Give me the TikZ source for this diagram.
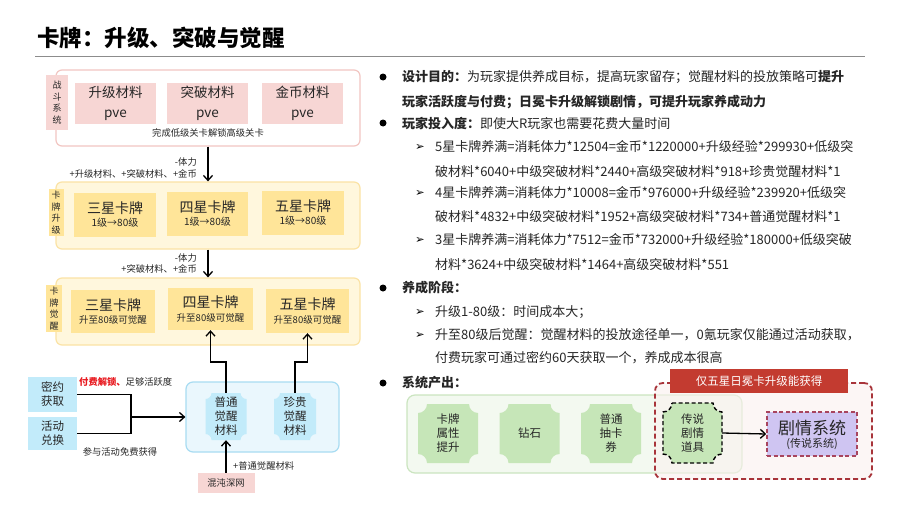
\documentclass[tikz,border=0pt]{standalone}
\usepackage{fontspec}
\setmainfont{Noto Sans CJK SC}
\newfontfamily\dvfont{DejaVu Sans}
\usetikzlibrary{arrows.meta,calc}
\definecolor{pinkbd}{HTML}{F2C6C2}
\definecolor{pinkfill}{HTML}{F7D6D4}
\definecolor{yelbg}{HTML}{FFF7DD}
\definecolor{yelbd}{HTML}{FBE3A5}
\definecolor{yelfill}{HTML}{FFE599}
\definecolor{bluebg}{HTML}{EAF7FD}
\definecolor{bluebd}{HTML}{A8DCF2}
\definecolor{bluefill}{HTML}{C2EBFA}
\definecolor{grnbg}{HTML}{F3F9F0}
\definecolor{grnbd}{HTML}{CBE5C0}
\definecolor{grnfill}{HTML}{C6E6B8}
\definecolor{redbd}{HTML}{A8343A}
\definecolor{redban}{HTML}{C33B30}
\definecolor{redbg}{HTML}{FAF1EF}
\definecolor{lav}{HTML}{CFC5F2}
\definecolor{lavbd}{HTML}{A8445E}
\definecolor{txt}{HTML}{262626}
\definecolor{redtxt}{HTML}{E8191F}
\newcommand{\fsz}[2]{\fontsize{#1}{#2}\selectfont}
\newcommand{\plaq}[8]{%
  \pgfmathsetmacro\plqXa{#2-#4/2}%
  \pgfmathsetmacro\plqXb{#2+#4/2}%
  \pgfmathsetmacro\plqYa{#3-#5/2}%
  \pgfmathsetmacro\plqYb{#3+#5/2}%
  \pgfmathsetmacro\plqK{0.5523*#6}%
  \path[#7] (\plqXa+#6,\plqYa) -- (\plqXb-#6,\plqYa)
    .. controls (\plqXb-#6,\plqYa+\plqK) and (\plqXb-\plqK,\plqYa+#6) .. (\plqXb,\plqYa+#6)
    -- (\plqXb,\plqYb-#6)
    .. controls (\plqXb-\plqK,\plqYb-#6) and (\plqXb-#6,\plqYb-\plqK) .. (\plqXb-#6,\plqYb)
    -- (\plqXa+#6,\plqYb)
    .. controls (\plqXa+#6,\plqYb-\plqK) and (\plqXa+\plqK,\plqYb-#6) .. (\plqXa,\plqYb-#6)
    -- (\plqXa,\plqYa+#6)
    .. controls (\plqXa+\plqK,\plqYa+#6) and (\plqXa+#6,\plqYa+\plqK) .. (\plqXa+#6,\plqYa)
    -- cycle;
  \node[plqtext, minimum width=#4pt, minimum height=#5pt] (#1) at (#2,#3) {#8};
}
\begin{document}
\begin{tikzpicture}[x=1pt,y=-1pt,
  lbl/.style={inner sep=0pt, text=txt},
  plqtext/.style={inner sep=0pt, align=center, text=txt, font=\fsz{11.5}{14}},
  tl/.style={anchor=west, inner sep=0pt, font=\fsz{13}{16}, text=txt},
  bul/.style={circle, fill=black, minimum size=7pt, inner sep=0pt},
  subm/.style={inner sep=0pt, font=\dvfont\fsz{11.5}{13}, text=black},
  arr/.style={line width=1.3pt, draw=black, -{Straight Barb[length=5pt,width=9pt]}},
  outer/.style={line width=1.2pt, rounded corners=6pt, minimum width=304pt, inner sep=0pt},
  vlab/.style={inner sep=0pt, align=center, font=\fsz{9}{11.5}, text=txt},
  pinkin/.style={fill=pinkfill, inner sep=0pt, minimum width=81pt, minimum height=41pt, align=center, font=\fsz{13.5}{20}, text=txt},
  yelin/.style={fill=yelfill, inner sep=0pt, minimum height=44pt},
  capt/.style={inner sep=0pt, text=txt, font=\fsz{9.3}{11}},
  bluein/.style={fill=bluefill, inner sep=0pt, minimum width=49pt, align=center, font=\fsz{11.5}{14}, text=txt}
]
\useasboundingbox (0,0) rectangle (900,506);
\fill[white] (0,0) rectangle (900,506);

% title
\node[anchor=west, inner sep=0pt, font=\fsz{22.5}{26}\bfseries, text=black] (title) at (37,38) {卡牌：升级、突破与觉醒};
\coordinate (tla) at (35,56);
\coordinate (tlb) at (865,56);
\draw[draw=black!45, line width=1pt] (tla) -- (tlb);

% ---------- box 1: battle system
\node[outer, draw=pinkbd, fill=white, minimum height=76pt] (b1) at (208,108) {};
\node[vlab, fill=pinkfill, minimum width=22pt, minimum height=55pt] (lb1) at (57,102.5) {战\\斗\\系\\统};
\node[pinkin] (m1) at (115.5,103.5) {升级材料\\pve};
\node[pinkin] (m2) at (207.5,103.5) {突破材料\\pve};
\node[pinkin] (m3) at (302.5,103.5) {金币材料\\pve};
\node[capt] (c1) at (208,133) {完成低级关卡解锁高级关卡};

% ---------- box 2: upgrade
\node[outer, draw=yelbd, fill=yelbg, minimum height=67pt] (b2) at (208,215.5) {};
\node[vlab, fill=yelfill, minimum width=15pt, minimum height=47pt] (lb2) at (56,212.5) {卡\\牌\\升\\级};
\node[yelin, minimum width=82pt] (u3) at (115,214.5) {};
\node[yelin, minimum width=81pt] (u4) at (207.5,214) {};
\node[yelin, minimum width=82pt] (u5) at (303,212.5) {};
\node[lbl, font=\fsz{14}{16}] (u3t) at ($(u3.center)+(0,-6.5)$) {三星卡牌};
\node[lbl, font=\fsz{10}{12}] (u3s) at ($(u3.center)+(0,8)$) {1级→80级};
\node[lbl, font=\fsz{14}{16}] (u4t) at ($(u4.center)+(0,-6.5)$) {四星卡牌};
\node[lbl, font=\fsz{10}{12}] (u4s) at ($(u4.center)+(0,8)$) {1级→80级};
\node[lbl, font=\fsz{14}{16}] (u5t) at ($(u5.center)+(0,-6.5)$) {五星卡牌};
\node[lbl, font=\fsz{10}{12}] (u5s) at ($(u5.center)+(0,8)$) {1级→80级};

% ---------- box 3: awakening
\node[outer, draw=yelbd, fill=yelbg, minimum height=67pt] (b3) at (208,311.5) {};
\node[vlab, fill=yelfill, minimum width=16pt, minimum height=47pt] (lb3) at (54,308.5) {卡\\牌\\觉\\醒};
\node[yelin, minimum width=84pt, minimum height=43pt] (a3) at (113,311.5) {};
\node[yelin, minimum width=85pt, minimum height=42pt] (a4) at (210.5,309) {};
\node[yelin, minimum width=83pt, minimum height=44pt] (a5) at (307.5,311) {};
\node[lbl, font=\fsz{14}{16}] (a3t) at ($(a3.center)+(0,-6.5)$) {三星卡牌};
\node[lbl, font=\fsz{9.5}{12}] (a3s) at ($(a3.center)+(0,8.5)$) {升至80级可觉醒};
\node[lbl, font=\fsz{14}{16}] (a4t) at ($(a4.center)+(0,-6.5)$) {四星卡牌};
\node[lbl, font=\fsz{9.5}{12}] (a4s) at ($(a4.center)+(0,8.5)$) {升至80级可觉醒};
\node[lbl, font=\fsz{14}{16}] (a5t) at ($(a5.center)+(0,-6.5)$) {五星卡牌};
\node[lbl, font=\fsz{9.5}{12}] (a5s) at ($(a5.center)+(0,8.5)$) {升至80级可觉醒};

% arrows between boxes
\draw[arr] (b1.south) -- (b2.north);
\node[capt, anchor=east] (l1a) at (197,162) {-体力};
\node[capt, anchor=east] (l1b) at (197,174) {+升级材料、+突破材料、+金币};
\draw[arr] (b2.south) -- (b3.north);
\node[capt, anchor=east] (l2a) at (197,258) {-体力};
\node[capt, anchor=east] (l2b) at (197,269) {+突破材料、+金币};

% ---------- awakening materials
\node[draw=bluebd, fill=bluebg, line width=1.2pt, rounded corners=7pt, minimum width=153pt, minimum height=70pt, inner sep=0pt] (bl) at (262.5,417) {};
\plaq{pt}{226}{416.5}{41}{47}{6}{fill=bluefill}{普通\\觉醒\\材料}
\plaq{zg}{295}{416.5}{42}{47}{6}{fill=bluefill}{珍贵\\觉醒\\材料}
\node[bluein, minimum height=35pt] (mi) at (52.5,394.5) {密约\\获取};
\node[bluein, minimum height=33pt] (hd) at (52.5,433.5) {活动\\兑换};
\node[fill=pinkfill, minimum width=57pt, minimum height=20pt, inner sep=0pt, font=\fsz{9.3}{11}, text=txt] (hd2) at (226,483) {混沌深网};

\coordinate (jn) at (131,417);
\draw[line width=1.3pt] (mi.east) -| (jn) |- (hd.east);
\draw[arr] (jn) -- (bl.west);
\node[capt, anchor=west] (lp) at (79,382) {\textcolor{redtxt}{\bfseries 付费解锁、}足够活跃度};
\node[capt] (lq) at (120,452) {参与活动免费获得};

\coordinate (e1) at (219,362);
\coordinate (e2) at (301,362);
\draw[arr] (pt.north) |- (e1) -| (a4.south);
\draw[arr] (zg.north) |- (e2) -| (a5.south);
\draw[arr] (hd2.north) -- (pt.south);
\node[capt, anchor=west] (lr) at (233,466) {+普通觉醒材料};

% ---------- right text
\node[bul] (k1) at (383,77) {};
\node[tl] (r1) at (402,77) {\textbf{设计目的：}为玩家提供养成目标，提高玩家留存；觉醒材料的投放策略可\textbf{提升}};
\node[tl] (r2) at (402,102) {\textbf{玩家活跃度与付费；日冕卡升级解锁剧情，可提升玩家养成动力}};
\node[bul] (k2) at (383,123) {};
\node[tl] (r3) at (402,123) {\textbf{玩家投入度：}即使大R玩家也需要花费大量时间};
\node[subm] (s1) at (420,147) {➢};
\node[tl] (r4) at (435,147) {5星卡牌养满=消耗体力*12504=金币*1220000+升级经验*299930+低级突};
\node[tl] (r5) at (435,172) {破材料*6040+中级突破材料*2440+高级突破材料*918+珍贵觉醒材料*1};
\node[subm] (s2) at (420,193) {➢};
\node[tl] (r6) at (435,193) {4星卡牌养满=消耗体力*10008=金币*976000+升级经验*239920+低级突};
\node[tl] (r7) at (435,217) {破材料*4832+中级突破材料*1952+高级突破材料*734+普通觉醒材料*1};
\node[subm] (s3) at (420,240) {➢};
\node[tl] (r8) at (435,240) {3星卡牌养满=消耗体力*7512=金币*732000+升级经验*180000+低级突破};
\node[tl] (r9) at (435,265) {材料*3624+中级突破材料*1464+高级突破材料*551};
\node[bul] (k3) at (383,288) {};
\node[tl] (r10) at (402,288) {\textbf{养成阶段：}};
\node[subm] (s4) at (420,312) {➢};
\node[tl] (r11) at (435,312) {升级1-80级：时间成本大；};
\node[subm] (s5) at (420,335) {➢};
\node[tl] (r12) at (435,335) {升至80级后觉醒：觉醒材料的投放途径单一，0氪玩家仅能通过活动获取，};
\node[tl] (r13) at (435,358) {付费玩家可通过密约60天获取一个，养成成本很高};
\node[bul] (k4) at (383,383) {};
\node[tl] (r14) at (402,383) {\textbf{系统产出：}};

% ---------- system output
\node[draw=grnbd, fill=grnbg, line width=1.2pt, rounded corners=8pt, minimum width=335pt, minimum height=78pt, inner sep=0pt] (gb) at (574.5,434) {};
\node[draw=redbd, dashed, dash pattern=on 5pt off 3pt, line width=1.8pt, fill=redbg, fill opacity=0.6, draw opacity=1, rounded corners=8pt, minimum width=217pt, minimum height=96pt, inner sep=0pt] (rb) at (763.5,431) {};
\node[fill=redban, minimum width=178pt, minimum height=24pt, inner sep=0pt, text=white, font=\fsz{11.5}{14}] (ban) at (759,381) {仅五星日冕卡升级能获得};
\plaq{g1}{448}{433.5}{60}{59}{9}{fill=grnfill}{卡牌\\属性\\提升}
\plaq{g2}{529.5}{433.5}{60}{59}{9}{fill=grnfill}{钻石}
\plaq{g3}{611}{433.5}{60}{59}{9}{fill=grnfill}{普通\\抽卡\\券}
\plaq{g4}{692.5}{433}{59}{60}{9}{fill=grnfill, draw=black, dashed, dash pattern=on 4pt off 2.5pt, line width=1.4pt}{传说\\剧情\\道具}
\node[fill=lav, draw=lavbd, dashed, dash pattern=on 4pt off 2.5pt, line width=1.5pt, minimum width=90pt, minimum height=44pt, inner sep=0pt] (js) at (812,434) {};
\node[lbl, font=\fsz{17}{20}] (jst) at ($(js.center)+(0,-6)$) {剧情系统};
\node[lbl, font=\fsz{11}{13}] (jss) at ($(js.center)+(0,10)$) {(传说系统)};
\draw[arr] (g4.east) -- (js.west);
\end{tikzpicture}
\end{document}
